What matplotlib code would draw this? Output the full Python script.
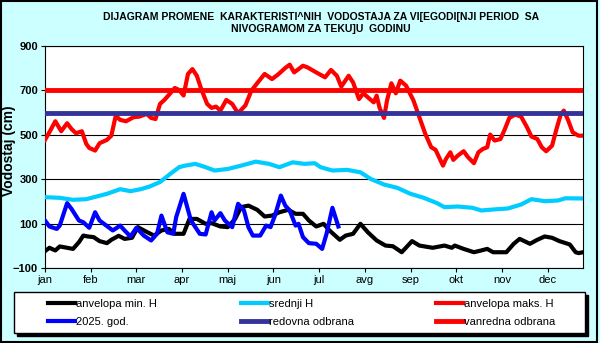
import matplotlib
matplotlib.use("Agg")
import matplotlib.pyplot as plt
from matplotlib.patches import Rectangle

plt.rcParams['font.family'] = ['Liberation Sans', 'DejaVu Sans']

# x osa: dani u godini (0..365), podeoci na svakih 31 dan
months = ['jan', 'feb', 'mar', 'apr', 'maj', 'jun', 'jul', 'avg', 'sep', 'okt', 'nov', 'dec']
month_ticks = [0, 31, 62, 93, 124, 155, 186, 217, 248, 279, 310, 341]

# anvelopa maks. H
max_days = [0, 3, 7, 11, 15, 18, 21, 25, 28, 30, 34, 37, 42, 45, 48, 51, 55, 60, 64, 69, 72, 75, 78,
            81, 85, 88, 91, 94, 97, 100, 103, 106, 110, 113, 116, 119, 123, 127, 131, 136, 140, 145,
            149, 154, 158, 163, 166, 169, 175, 178, 184, 190, 194, 198, 201, 206, 209, 213, 216, 219,
            223, 225, 227, 230, 232, 235, 238, 241, 245, 250, 254, 258, 262, 265, 270, 272, 275, 277,
            280, 284, 287, 291, 294, 297, 300, 302, 305, 309, 312, 315, 319, 323, 327, 330, 334, 337,
            340, 344, 347, 350, 352, 355, 358, 362, 365]
max_h = [477, 512, 561, 516, 552, 526, 507, 516, 459, 441, 429, 462, 477, 496, 586, 567, 561, 579, 582,
         594, 576, 571, 639, 657, 687, 711, 702, 677, 774, 796, 766, 706, 639, 621, 627, 609, 657, 639,
         597, 633, 699, 741, 774, 751, 771, 801, 816, 781, 811, 804, 781, 759, 792, 766, 717, 766, 736,
         661, 687, 669, 646, 676, 621, 576, 654, 732, 687, 744, 721, 654, 579, 504, 444, 432, 361, 391,
         421, 387, 406, 426, 399, 372, 421, 436, 444, 501, 474, 481, 526, 576, 591, 582, 534, 492, 481,
         444, 426, 451, 526, 594, 609, 564, 511, 496, 496]

# srednji H
sr_days = [0, 10, 19, 28, 35, 42, 51, 58, 65, 71, 78, 85, 91, 95, 102, 109, 115, 124, 133, 143, 152,
           159, 168, 176, 183, 187, 195, 205, 214, 221, 230, 239, 248, 257, 266, 271, 280, 290, 296,
           305, 314, 323, 330, 339, 348, 353, 365]
sr_h = [219, 216, 207, 210, 222, 234, 255, 246, 255, 267, 287, 324, 354, 361, 369, 354, 339, 346, 361,
        379, 369, 354, 376, 369, 372, 354, 339, 342, 331, 301, 276, 261, 234, 216, 192, 174, 177, 171,
        159, 164, 168, 186, 210, 201, 204, 214, 213]

# anvelopa min. H
min_days = [0, 3, 7, 10, 15, 19, 23, 26, 29, 33, 37, 42, 45, 50, 54, 59, 63, 68, 74, 79, 84, 88, 94,
            98, 103, 109, 113, 119, 124, 129, 133, 138, 144, 149, 154, 159, 165, 170, 175, 179, 184,
            189, 193, 200, 204, 209, 214, 219, 225, 231, 236, 242, 249, 254, 263, 271, 276, 278, 284,
            291, 296, 300, 304, 309, 313, 318, 322, 329, 334, 339, 344, 349, 356, 360, 362, 365]
min_h = [-24, -9, -21, -3, -9, -14, 16, 46, 42, 39, 21, 12, 27, 45, 31, 36, 84, 66, 46, 69, 76, 54, 54,
         121, 121, 99, 102, 87, 84, 121, 174, 181, 162, 132, 136, 151, 162, 144, 144, 114, 87, 99, 69,
         27, 46, 54, 99, 61, 24, 1, -2, -29, 21, 1, -9, 1, -9, 1, -14, -29, -21, -14, -29, -29, -29, 9,
         31, 9, 27, 42, 36, 21, 6, -29, -33, -29]

# 2025. god.
god_days = [0, 3, 8, 10, 15, 18, 23, 26, 30, 34, 37, 43, 46, 51, 54, 58, 62, 67, 72, 76, 79, 83, 87,
            89, 94, 99, 105, 109, 113, 115, 119, 122, 127, 131, 135, 138, 141, 146, 150, 153, 156, 160,
            163, 166, 170, 172, 175, 179, 184, 188, 191, 195, 197, 199]
god_h = [114, 87, 76, 91, 192, 166, 114, 106, 81, 151, 114, 84, 69, 91, 69, 42, 81, 46, 24, 54, 136,
         61, 54, 129, 234, 114, 54, 51, 151, 114, 147, 114, 84, 189, 159, 84, 46, 46, 91, 84, 136, 226,
         181, 159, 91, 99, 39, 12, 9, -14, 54, 171, 129, 87]

redovna = 600
vanredna = 700

fig = plt.figure(figsize=(6, 3.43), dpi=100)
fig.patch.set_facecolor('#ccffff')
fig.patches.append(Rectangle((0.002, 0.004), 0.993, 0.993, transform=fig.transFigure,
                             fill=False, edgecolor='black', linewidth=1.5))

ax = fig.add_axes([0.075, 0.2187, 0.8967, 0.6472])
ax.set_facecolor('white')

ax.plot(min_days, min_h, color='black', lw=3, label='anvelopa min. H', zorder=3)
ax.plot(sr_days, sr_h, color='#00ccff', lw=3, label='srednji H', zorder=3)
ax.plot(max_days, max_h, color='red', lw=3, label='anvelopa maks. H', zorder=3)
ax.plot(god_days, god_h, color='#0000ff', lw=3, label='2025. god.', zorder=4)
ax.axhline(redovna, color='#333399', lw=3.5, label='redovna odbrana', zorder=3)
ax.axhline(vanredna, color='red', lw=3.5, label='vanredna odbrana', zorder=3)

ax.set_xlim(0, 365)
ax.set_ylim(-100, 900)
ax.set_yticks([-100, 100, 300, 500, 700, 900])
ax.set_xticks(month_ticks)
ax.set_xticklabels(months, fontsize=8)
for t in ax.get_yticklabels():
    t.set_fontsize(8)
    t.set_fontweight('bold')
ax.grid(axis='y', color='black', lw=0.8)
ax.tick_params(direction='out', length=3, color='black', pad=2)
for s in ax.spines.values():
    s.set_color('black')
    s.set_linewidth(0.8)

ax.set_ylabel('Vodostaj (cm)', fontsize=10, fontweight='bold')
ax.yaxis.set_label_coords(-0.054, 0.53)

fig.text(0.535, 0.950, 'DIJAGRAM PROMENE  KARAKTERISTI^NIH  VODOSTAJA ZA VI[EGODI[NJI PERIOD  SA',
         ha='center', va='center', fontsize=7.5, fontweight='bold')
fig.text(0.535, 0.916, 'NIVOGRAMOM ZA TEKU]U  GODINU',
         ha='center', va='center', fontsize=7.5, fontweight='bold')

# okvir legende sa senkom
box_x, box_y, box_w, box_h = 0.0233, 0.0292, 0.9517, 0.1195
fig.patches.append(Rectangle((box_x + 3 / 600, box_y - 3 / 343), box_w, box_h,
                             transform=fig.transFigure, facecolor='black', edgecolor='black'))
fig.patches.append(Rectangle((box_x, box_y), box_w, box_h, transform=fig.transFigure,
                             facecolor='white', edgecolor='black', linewidth=1))

h, l = ax.get_legend_handles_labels()
col_x = [48 / 600, 241 / 600, 436 / 600]
for c in range(3):
    idx = [c, c + 3]
    leg = fig.legend([h[i] for i in idx], [l[i] for i in idx], loc='center left',
                     bbox_to_anchor=(col_x[c], 0.0875), frameon=False, fontsize=8,
                     handlelength=2.4, handletextpad=0.15, borderpad=0, borderaxespad=0,
                     labelspacing=0.75)
    leg.set_zorder(5)

fig.savefig('out.png', dpi=100, facecolor=fig.get_facecolor())
